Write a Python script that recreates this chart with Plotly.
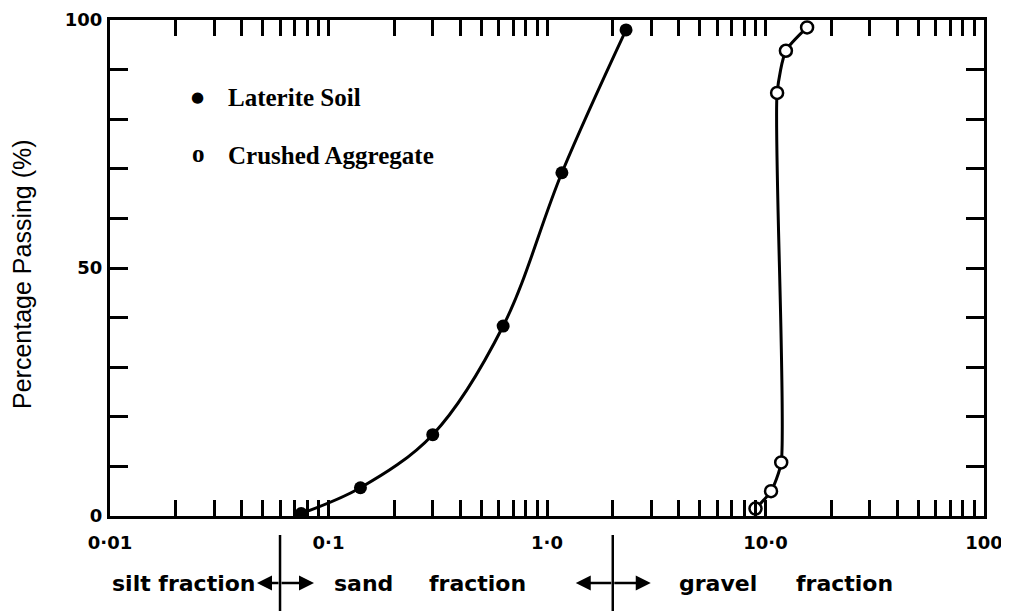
import math
import plotly.graph_objects as go

# ---------------- data ----------------
laterite_size = [0.075, 0.14, 0.30, 0.63, 1.17, 2.3]          # mm
laterite_passing = [0.5, 5.7, 16.4, 38.3, 69.2, 98.0]         # %

aggregate_size = [9.0, 10.6, 11.8, 11.3, 12.4, 15.5]          # mm
aggregate_passing = [1.5, 5.0, 10.8, 85.3, 93.8, 98.5]        # %

x_decades = [0.01, 0.1, 1.0, 10.0, 100.0]
x_decade_labels = ["0·01", "0·1", "1·0", "10·0", "100"]
y_ticks = [0, 10, 20, 30, 40, 50, 60, 70, 80, 90, 100]
y_labelled = {0: "0", 50: "50", 100: "100"}

fraction_bounds = [0.06, 2.0]          # silt/sand, sand/gravel (mm)
legend_names = ["Laterite Soil", "Crushed Aggregate"]

# ---------------- geometry (page pixels) ----------------
PAGE_W, PAGE_H = 1009, 611
BODY = 8                                 # default <body> margin of the page
PLOT_L, PLOT_R, PLOT_T, PLOT_B = 110, 984, 20, 516

W, H = PAGE_W - BODY, PAGE_H - BODY
ML, MT = PLOT_L - BODY, PLOT_T - BODY
MR = W - (PLOT_R - BODY)
MB = H - (PLOT_B - BODY)
PW, PH = PLOT_R - PLOT_L, PLOT_B - PLOT_T


def xpaper_from_px(px):
    return (px - PLOT_L) / PW


def ypaper_from_px(py):
    return (PLOT_B - py) / PH


def xpaper_from_data(v):
    return (math.log10(v) - math.log10(x_decades[0])) / (
        math.log10(x_decades[-1]) - math.log10(x_decades[0]))


# tick values on the log axis: decades + intermediate 2..9
x_tickvals, x_ticktext = [], []
for i, d in enumerate(x_decades[:-1]):
    for k in range(1, 10):
        x_tickvals.append(round(d * k, 6))
        x_ticktext.append(x_decade_labels[i] if k == 1 else "")
x_tickvals.append(x_decades[-1])
x_ticktext.append(x_decade_labels[-1])

fig = go.Figure()

fig.add_trace(go.Scatter(
    x=laterite_size, y=laterite_passing, mode="lines+markers",
    line=dict(color="black", width=3, shape="spline", smoothing=1.0),
    marker=dict(symbol="circle", size=13, color="black"),
    name=legend_names[0], showlegend=False,
))
fig.add_trace(go.Scatter(
    x=aggregate_size, y=aggregate_passing, mode="lines+markers",
    line=dict(color="black", width=3, shape="spline", smoothing=0.6),
    marker=dict(symbol="circle", size=12, color="white",
                line=dict(color="black", width=2.5)),
    name=legend_names[1], showlegend=False,
))

tickfont = dict(family="DejaVu Sans", size=18, color="black", weight="bold")

fig.update_xaxes(
    type="log", range=[math.log10(x_decades[0]), math.log10(x_decades[-1])],
    tickvals=x_tickvals, ticktext=x_ticktext,
    ticks="inside", ticklen=16, tickwidth=2.5, tickcolor="black",
    showline=True, linecolor="black", linewidth=3, mirror="ticks",
    showgrid=False, zeroline=False, tickfont=tickfont,
    ticklabelstandoff=8,
)
fig.update_yaxes(
    range=[0, 100],
    tickvals=y_ticks, ticktext=[y_labelled.get(v, "") for v in y_ticks],
    ticks="inside", ticklen=18, tickwidth=2.5, tickcolor="black",
    showline=True, linecolor="black", linewidth=3, mirror="ticks",
    showgrid=False, zeroline=False, tickfont=tickfont,
    ticklabelstandoff=1,
)

annotations = []
shapes = []

# y-axis title
annotations.append(dict(
    text="Percentage Passing (%)", xref="paper", yref="paper",
    x=xpaper_from_px(22), y=ypaper_from_px(274), textangle=-90,
    showarrow=False, xanchor="center", yanchor="middle",
    font=dict(family="Liberation Sans", size=25, color="black"),
))

# in-plot legend
legend_font = dict(family="Liberation Serif", size=25, color="black", weight="bold")
annotations.append(dict(
    text="●", xref="paper", yref="paper", x=xpaper_from_px(197), y=ypaper_from_px(97),
    showarrow=False, xanchor="center", yanchor="middle",
    font=dict(family="DejaVu Sans", size=15, color="black"),
))
annotations.append(dict(
    text=legend_names[0], xref="paper", yref="paper", x=xpaper_from_px(226), y=ypaper_from_px(97),
    showarrow=False, xanchor="left", yanchor="middle", font=legend_font,
))
annotations.append(dict(
    text="o", xref="paper", yref="paper", x=xpaper_from_px(198), y=ypaper_from_px(153),
    showarrow=False, xanchor="center", yanchor="middle", font=legend_font,
))
annotations.append(dict(
    text=legend_names[1], xref="paper", yref="paper", x=xpaper_from_px(226), y=ypaper_from_px(155),
    showarrow=False, xanchor="left", yanchor="middle", font=legend_font,
))

# fraction labels under the axis
frac_font = dict(family="DejaVu Sans", size=22, color="black", weight="bold")
label_y = ypaper_from_px(583)
for txt, px, anchor in [("silt fraction", 258, "right"), ("sand", 363, "center"),
                        ("fraction", 477, "center"), ("gravel", 718, "center"),
                        ("fraction", 844, "center")]:
    annotations.append(dict(
        text=txt, xref="paper", yref="paper", x=xpaper_from_px(px), y=label_y,
        showarrow=False, xanchor=anchor, yanchor="middle", font=frac_font,
    ))

# boundary lines and double arrows
arrow_extent = [(23, 34), (37, 38)]
for b, (left_len, right_len) in zip(fraction_bounds, arrow_extent):
    xb = xpaper_from_data(b)
    shapes.append(dict(type="line", xref="paper", yref="paper",
                       x0=xb, x1=xb, y0=ypaper_from_px(535), y1=ypaper_from_px(611),
                       line=dict(color="black", width=2.5)))
    bpx = PLOT_L + xb * PW
    annotations.append(dict(
        text="", xref="paper", yref="paper", x=xpaper_from_px(bpx - left_len), y=label_y,
        ax=left_len, ay=0, showarrow=True, arrowhead=2, arrowsize=1.2,
        arrowwidth=2.5, arrowcolor="black", standoff=0,
    ))
    annotations.append(dict(
        text="", xref="paper", yref="paper", x=xpaper_from_px(bpx + right_len), y=label_y,
        ax=-right_len, ay=0, showarrow=True, arrowhead=2, arrowsize=1.2,
        arrowwidth=2.5, arrowcolor="black", standoff=0,
    ))

fig.update_layout(
    width=W, height=H,
    margin=dict(l=ML, r=MR, t=MT, b=MB, autoexpand=False),
    paper_bgcolor="white", plot_bgcolor="white",
    annotations=annotations, shapes=shapes, showlegend=False,
)

fig.write_html("out.html")
